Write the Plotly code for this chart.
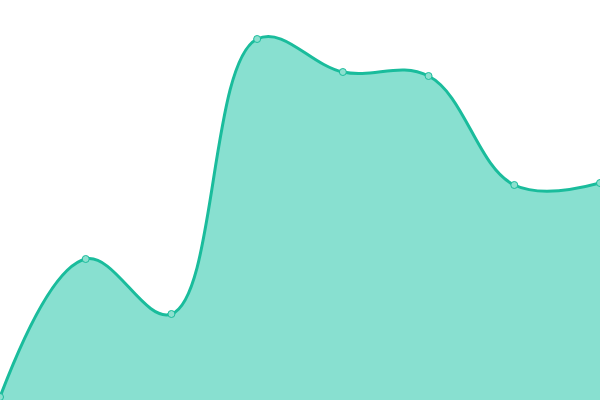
import plotly.graph_objects as go

# valores
x_vals = [0, 1, 2, 3, 4, 5, 6, 7]
y_vals = [3, 141, 86, 361, 328, 324, 215, 217]

fig = go.Figure()
fig.add_trace(go.Scatter(x=x_vals, y=y_vals,
                         mode='lines+markers',
                         line=dict(color='#1abc9c', width=3, shape='spline', smoothing=1.1),
                         marker=dict(size=7, color='#8ce0cf', line=dict(color='#1abc9c', width=1)),
                         fill='tozeroy', fillcolor='#88e0d0',
                         cliponaxis=False))

fig.update_layout(
    width=600, height=400,
    margin=dict(l=0, r=0, t=0, b=0),
    paper_bgcolor='white', plot_bgcolor='white',
    showlegend=False,
    xaxis=dict(range=[0, 7], visible=False),
    yaxis=dict(range=[0, 400], visible=False),
)

# quitar el margen del body para que ocupe toda la ventana
fig.write_html("out.html", config={'displayModeBar': False},
               post_script="document.body.style.margin='0';")
